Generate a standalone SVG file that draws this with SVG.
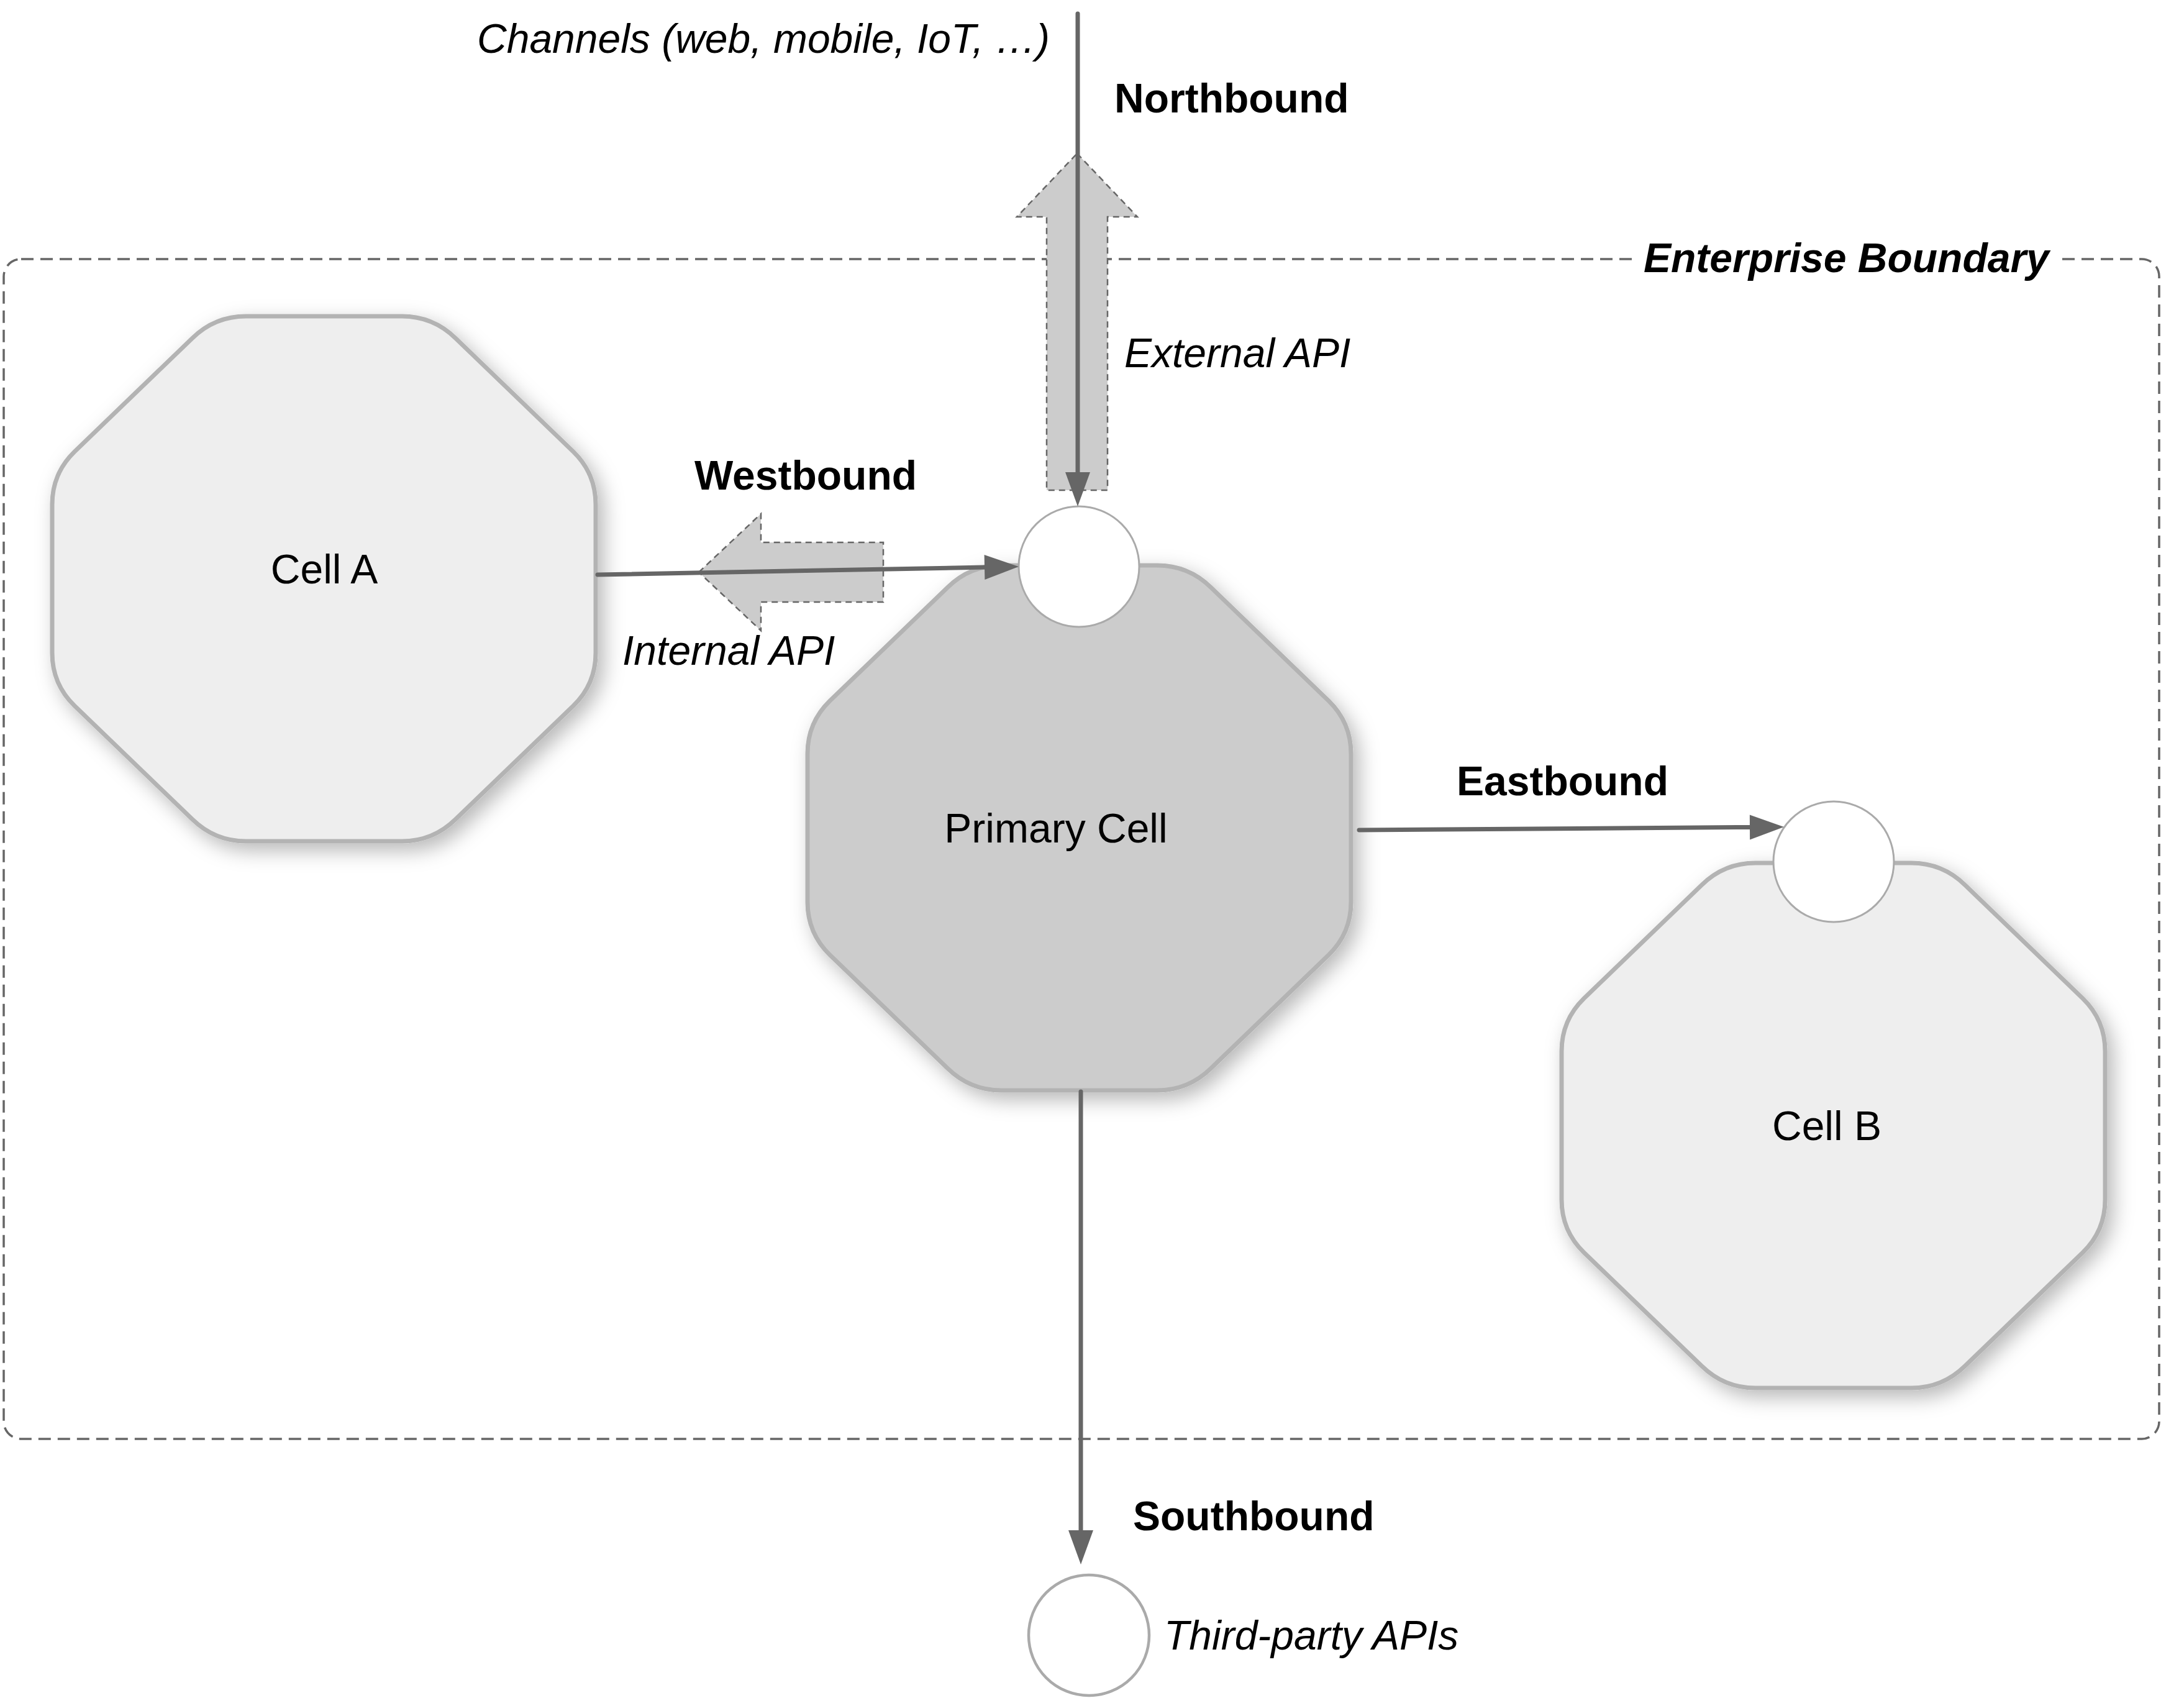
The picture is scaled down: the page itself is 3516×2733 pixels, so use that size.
<svg xmlns="http://www.w3.org/2000/svg" xmlns:xlink="http://www.w3.org/1999/xlink" width="3516" height="2733" viewBox="0 0 3516 2733">
<style>
text{font-family:"Liberation Sans",Arial,Helvetica,sans-serif;font-size:66px;fill:#000}
.b{font-weight:bold}
.i{font-style:italic}
.oct{stroke:#b3b3b3;stroke-width:7;filter:url(#sh)}
.port{fill:#fff;stroke:#aaaaaa;stroke-width:3}
.conn{stroke:#666;stroke-width:7;stroke-linecap:round;fill:none;marker-end:url(#ah)}
.blk{fill:#cccccc;stroke:#666;stroke-width:2.5;stroke-dasharray:10 7}
</style>
<defs>
<filter id="sh" x="-20%" y="-20%" width="150%" height="150%">
<feDropShadow dx="10" dy="12" stdDeviation="16" flood-color="#000" flood-opacity="0.28"/>
</filter>
<marker id="ah" markerUnits="userSpaceOnUse" markerWidth="60" markerHeight="44" refX="0" refY="22" orient="auto" overflow="visible">
<path d="M0,2 L55,22 L0,42 Z" fill="#666"/>
</marker>
<path id="oct" d="M312,0 L563,0 Q613,0 649,35 L839,218 Q875,253 875,303 L875,542 Q875,592 839,627 L649,810 Q613,845 563,845 L312,845 Q262,845 226,810 L36,627 Q0,592 0,542 L0,303 Q0,253 36,218 L226,35 Q262,0 312,0 Z"/>
</defs>
<rect width="3516" height="2733" fill="#fff"/>

<g id="boundary">
<rect x="6" y="417" width="3470" height="1899" rx="28" ry="28" fill="none" stroke="#666" stroke-width="3.5" stroke-dasharray="20 11"/>
<rect x="2632" y="395" width="688" height="50" fill="#fff"/>
<text class="b i" x="2646" y="438">Enterprise Boundary</text>
</g>

<g id="cell-a">
<use xlink:href="#oct" href="#oct" class="oct" fill="#eeeeee" transform="translate(84,509)"/>
<text x="522" y="939" text-anchor="middle">Cell A</text>
</g>

<g id="primary-cell">
<use xlink:href="#oct" href="#oct" class="oct" fill="#cccccc" transform="translate(1300,910)"/>
<text x="1700" y="1356" text-anchor="middle">Primary Cell</text>
</g>

<g id="cell-b">
<use xlink:href="#oct" href="#oct" class="oct" fill="#eeeeee" transform="translate(2514,1389)"/>
<text x="2941" y="1835" text-anchor="middle">Cell B</text>
</g>

<g id="api-arrows">
<path id="external-api-arrow" class="blk" d="M1734,247 L1831,349 L1783,349 L1783,789 L1685,789 L1685,349 L1637,349 Z"/>
<path id="internal-api-arrow" class="blk" d="M1125,921 L1225,827 L1225,873 L1422,873 L1422,969 L1225,969 L1225,1015 Z"/>
</g>

<g id="primary-port"><circle class="port" cx="1737" cy="912" r="97"/></g>
<g id="cell-b-port"><circle class="port" cx="2952" cy="1387" r="97"/></g>
<g id="third-party"><circle cx="1753" cy="2632" r="97" fill="#fff" stroke="#aaaaaa" stroke-width="4.5"/></g>

<g id="connectors">
<line class="conn" x1="1735" y1="22" x2="1735" y2="760"/>
<line class="conn" x1="962" y1="925" x2="1585" y2="913"/>
<line class="conn" x1="2188" y1="1336" x2="2817" y2="1331.4"/>
<line class="conn" x1="1740" y1="1757" x2="1740" y2="2463"/>
</g>

<g id="labels">
<text class="i" x="1690" y="85" text-anchor="end">Channels (web, mobile, IoT, …)</text>
<text class="b" x="1794" y="181">Northbound</text>
<text class="i" x="1810" y="591">External API</text>
<text class="b" x="1118" y="788">Westbound</text>
<text class="i" x="1002" y="1070">Internal API</text>
<text class="b" x="2345" y="1280">Eastbound</text>
<text class="b" x="1824" y="2463">Southbound</text>
<text class="i" x="1874" y="2655">Third-party APIs</text>
</g>
</svg>
